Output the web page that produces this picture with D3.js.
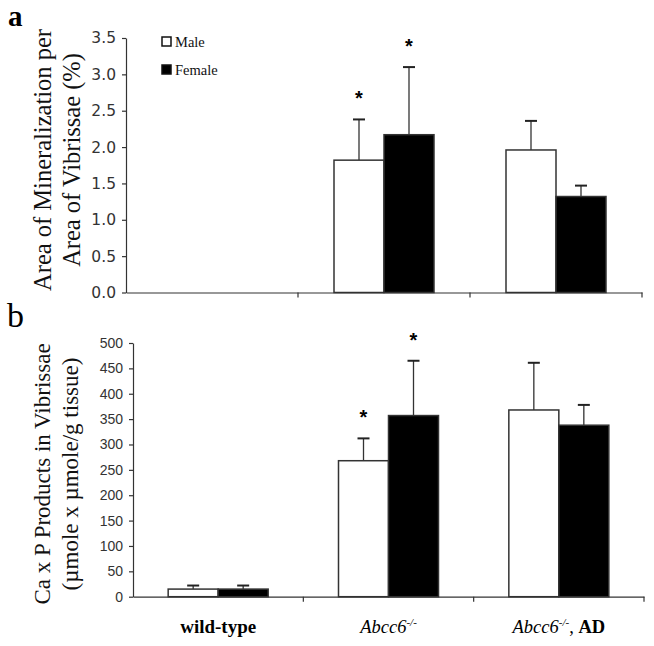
<!DOCTYPE html>
<html><head><meta charset="utf-8">
<script src="https://cdn.jsdelivr.net/npm/d3@7"></script>
<style>body{margin:0;background:#fff}svg{display:block}</style>
</head><body>
<script>
const categories = ["wild-type", "Abcc6-/-", "Abcc6-/-, AD"];
const series = ["Male", "Female"];
// panel a: area of mineralization (%)
const aMale = [null, 1.82, 1.96];
const aMaleErr = [null, 0.56, 0.40];
const aFemale = [null, 2.17, 1.32];
const aFemaleErr = [null, 0.93, 0.15];
const aStars = [[false,false],[true,true],[false,false]];
const aTicks = [0,0.5,1.0,1.5,2.0,2.5,3.0,3.5];
// panel b: Ca x P products
const bMale = [15, 268, 368];
const bMaleErr = [7, 44, 93];
const bFemale = [15, 357, 338];
const bFemaleErr = [7, 108, 40];
const bStars = [[false,false],[true,true],[false,false]];
const bTicks = [0,50,100,150,200,250,300,350,400,450,500];

const W=654,H=646;
const svg=d3.select("body").append("svg").attr("width",W).attr("height",H);
const serif="'Liberation Serif','Times New Roman',serif";
const sans="'Liberation Sans',Arial,sans-serif";
const axCol="#333";

function panel(cfg){
  const g=svg.append("g");
  const x=d3.scaleBand().domain(categories).range([cfg.x0,cfg.x1]);
  const y=d3.scaleLinear().domain([0,cfg.max]).range([cfg.y0,cfg.y1]);
  const xs=d3.scaleBand().domain(series).range([0,100]);
  const data=[];
  categories.forEach((c,i)=>{
    [[cfg.male,cfg.maleErr,"Male"],[cfg.female,cfg.femaleErr,"Female"]].forEach(([v,e,s],j)=>{
      if(v[i]!=null) data.push({c,s,v:v[i],e:e[i],star:cfg.stars[i][j]});
    });
  });
  const bx=d=>x(d.c)+x.bandwidth()/2-50+xs(d.s);
  data.forEach(d=>{
    const cx=bx(d)+xs.bandwidth()/2;
    g.append("line").attr("x1",cx).attr("x2",cx).attr("y1",y(d.v)).attr("y2",y(d.v+d.e)).attr("stroke",axCol).attr("stroke-width",1.3);
    g.append("line").attr("x1",cx-6).attr("x2",cx+6).attr("y1",y(d.v+d.e)).attr("y2",y(d.v+d.e)).attr("stroke","#222").attr("stroke-width",2);
    if(d.star) g.append("text").attr("x",cx).attr("y",y(d.v+d.e)-cfg.starOff).attr("text-anchor","middle")
      .attr("font-family",sans).attr("font-weight","bold").attr("font-size",20).text("*");
  });
  g.selectAll("rect.bar").data(data).join("rect").attr("class","bar")
    .attr("x",bx).attr("width",xs.bandwidth()).attr("y",d=>y(d.v)).attr("height",d=>cfg.y0-y(d.v))
    .attr("fill",d=>d.s==="Male"?"#fff":"#000").attr("stroke",axCol).attr("stroke-width",1.5);
  const ya=g.append("g").attr("transform",`translate(${cfg.x0},0)`)
    .call(d3.axisLeft(y).tickValues(cfg.ticks).tickFormat(cfg.fmt).tickSize(4).tickSizeOuter(0));
  ya.select(".domain").attr("stroke",axCol).attr("stroke-width",1.2);
  ya.selectAll(".tick line").attr("stroke",axCol).attr("stroke-width",1.2);
  ya.selectAll("text").attr("font-family",cfg.tickFont).attr("font-size",cfg.tickSize).attr("fill","#333").attr("dx",-3);
  const xa=g.append("g").attr("transform",`translate(0,${cfg.y0})`)
    .call(d3.axisBottom(x).tickValues([]).tickSizeOuter(0));
  xa.select(".domain").attr("stroke",axCol).attr("stroke-width",1.2);
  categories.forEach(c=>{
    const xx=x(c)+x.bandwidth();
    g.append("line").attr("x1",xx).attr("x2",xx).attr("y1",cfg.y0).attr("y2",cfg.y0+5).attr("stroke",axCol).attr("stroke-width",1.2);
  });
  const t=g.append("text").attr("transform",`translate(${cfg.titleX},${cfg.titleY}) rotate(-90)`)
    .attr("text-anchor","middle").attr("font-family",serif).attr("font-size",cfg.titleSize).attr("fill","#111");
  cfg.title.forEach((s,i)=>t.append("tspan").attr("x",0).attr("dy",i?cfg.titleLH:0).text(s));
  return {g,x};
}

const pa=panel({x0:126,x1:642,y0:292.5,y1:38,max:3.5,male:aMale,maleErr:aMaleErr,female:aFemale,femaleErr:aFemaleErr,
  stars:aStars,ticks:aTicks,fmt:d3.format(".1f"),tickFont:"'DejaVu Sans',sans-serif",tickSize:15.5,starOff:14,
  title:["Area of Mineralization per","Area of Vibrissae (%)"],titleX:51,titleY:160,titleSize:24.5,titleLH:29});
const pb=panel({x0:133,x1:644,y0:596.7,y1:343,max:500,male:bMale,maleErr:bMaleErr,female:bFemale,femaleErr:bFemaleErr,
  stars:bStars,ticks:bTicks,fmt:d3.format("d"),tickFont:sans,tickSize:14,starOff:14,
  title:["Ca x P Products in Vibrissae","(µmole x µmole/g tissue)"],titleX:50,titleY:474,titleSize:23,titleLH:28});

svg.append("text").attr("x",8).attr("y",26).attr("font-family",serif).attr("font-size",29).attr("font-weight","bold").text("a");
svg.append("text").attr("x",7).attr("y",327).attr("font-family",serif).attr("font-size",34).text("b");

series.forEach((s,i)=>{
  const ly=37+i*28;
  svg.append("rect").attr("x",162).attr("y",ly).attr("width",9).attr("height",9)
    .attr("fill",s==="Male"?"#fff":"#000").attr("stroke","#111").attr("stroke-width",1.5);
  svg.append("text").attr("x",175).attr("y",ly+9.5).attr("font-family",serif).attr("font-size",14.5).attr("fill","#111").text(s);
});

const lx=pb.x, ly=633;
svg.append("text").attr("x",lx(categories[0])+lx.bandwidth()/2).attr("y",ly).attr("text-anchor","middle")
  .attr("font-family",serif).attr("font-weight","bold").attr("font-size",19).text(categories[0]);
function abcc(t,extra){
  t.append("tspan").attr("font-style","italic").text("Abcc6");
  t.append("tspan").attr("font-style","italic").attr("font-size",11).attr("dy",-7).text("-/-");
  if(extra){ t.append("tspan").attr("dy",7).text(", "); t.append("tspan").attr("font-weight","bold").text("AD"); }
}
const t1=svg.append("text").attr("x",lx(categories[1])+lx.bandwidth()/2).attr("y",ly).attr("text-anchor","middle")
  .attr("font-family",serif).attr("font-size",18.5);
abcc(t1,false);
const t2=svg.append("text").attr("x",lx(categories[2])+lx.bandwidth()/2).attr("y",ly).attr("text-anchor","middle")
  .attr("font-family",serif).attr("font-size",18.5);
abcc(t2,true);
</script>
</body></html>
